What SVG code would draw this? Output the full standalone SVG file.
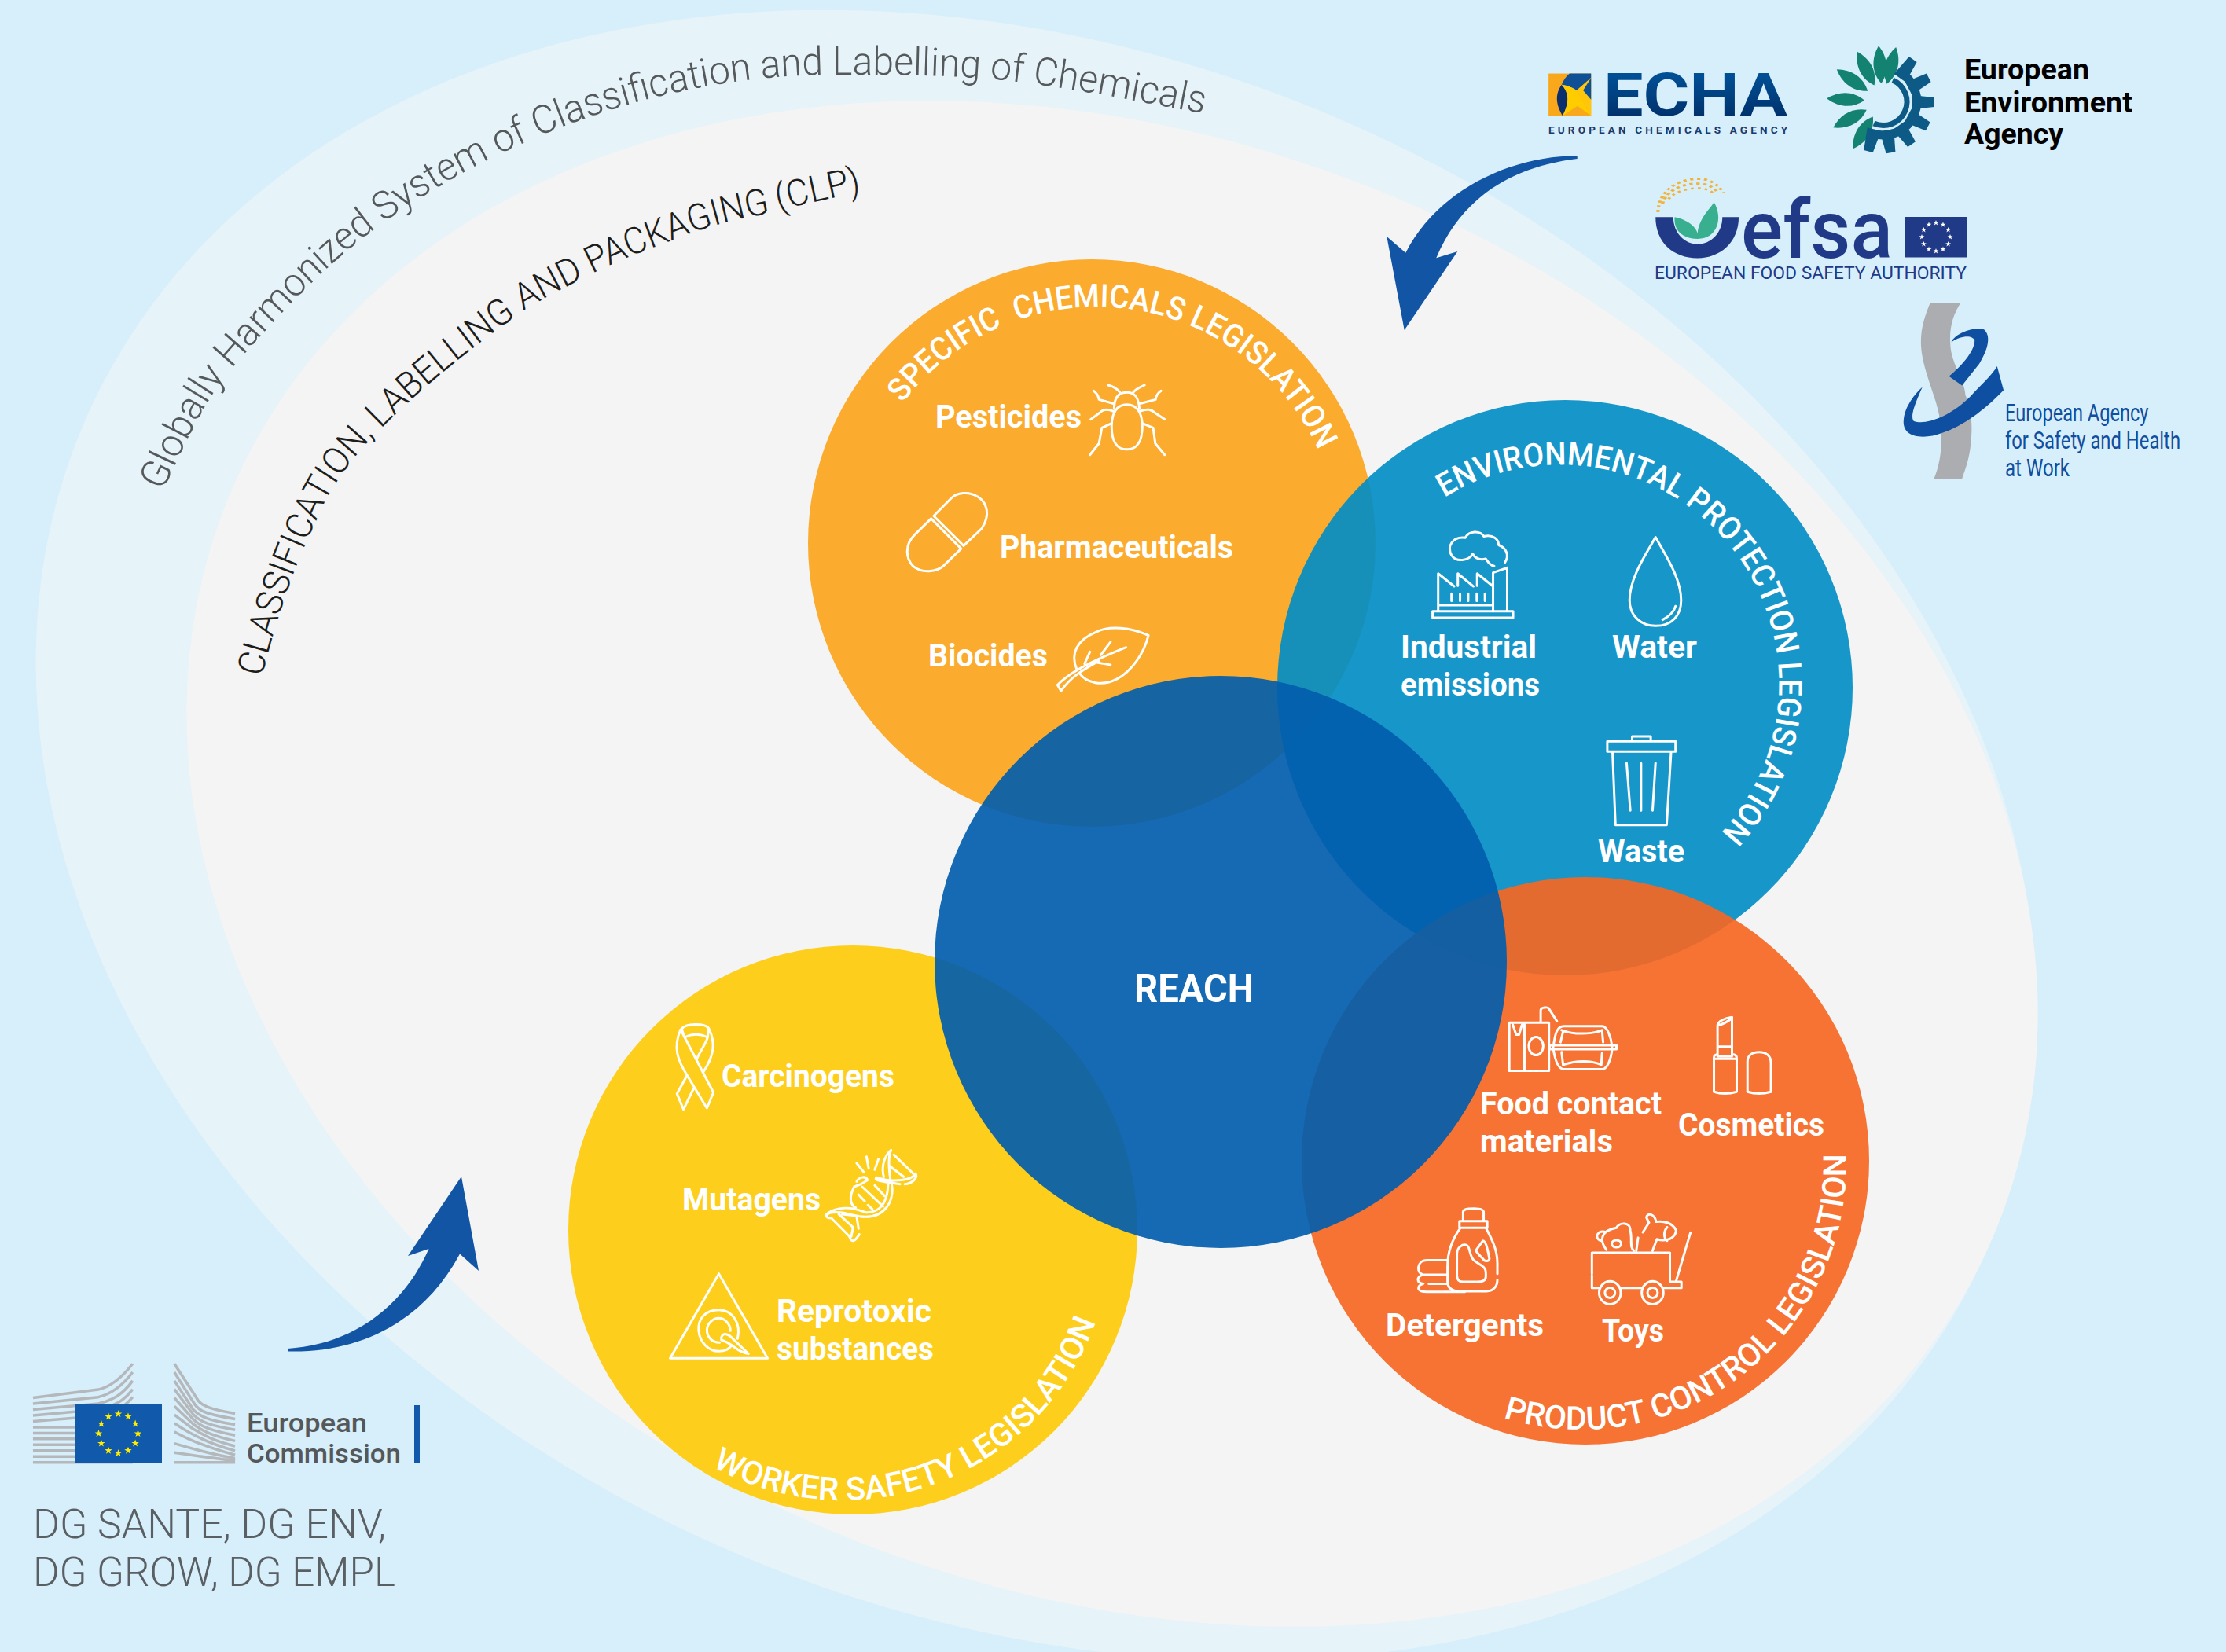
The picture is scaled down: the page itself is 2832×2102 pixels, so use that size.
<svg xmlns="http://www.w3.org/2000/svg" width="2832" height="2102" viewBox="0 0 2832 2102">
<style>
text{font-family:"Roboto","Liberation Sans",sans-serif}
.lb{font-size:41px;font-weight:700;fill:#fff}
.arc{font-size:41px;font-weight:500;fill:#fff}
.ic{fill:none;stroke:#fff;stroke-width:3;stroke-linecap:round;stroke-linejoin:round}
.ic *{vector-effect:non-scaling-stroke}
.bl{fill:none;stroke:#b5b8bb;stroke-width:3.5}
.bl *{vector-effect:non-scaling-stroke}
.arrow{fill:#1355a5}
</style>
<defs>
<polygon id="st" points="0,-5 1.2,-1.6 4.8,-1.5 1.9,.6 3,4 0,2 -3,4 -1.9,.6 -4.8,-1.5 -1.2,-1.6"/>
<g id="ring">
<use href="#st" x="0" y="-25"/><use href="#st" x="12.5" y="-21.65"/><use href="#st" x="21.65" y="-12.5"/><use href="#st" x="25" y="0"/><use href="#st" x="21.65" y="12.5"/><use href="#st" x="12.5" y="21.65"/><use href="#st" x="0" y="25"/><use href="#st" x="-12.5" y="21.65"/><use href="#st" x="-21.65" y="12.5"/><use href="#st" x="-25" y="0"/><use href="#st" x="-21.65" y="-12.5"/><use href="#st" x="-12.5" y="-21.65"/>
</g>
<path id="leaf" d="M2395,106 C2384,92 2384,74 2395,58 C2406,74 2406,92 2395,106 Z"/>
<path id="tooth" d="M2387,92 L2390,63 H2402 L2405,92 Z"/>
<path id="pSpec" d="M1148.1,513.3 A309.5,309.5 0 0 1 1694,620"/>
<path id="pEnv" d="M1837.6,633.1 A279,279 0 0 1 2145,1098.5"/>
<path id="pProd" d="M1912.3,1803.9 A337,337 0 0 0 2337.5,1395"/>
<path id="pWork" d="M906.2,1866 A342,342 0 0 0 1408.8,1626.4"/>
<path id="pGhs" d="M207,625 C235,565 262,505 298,465 C355,400 420,330 495,278 C555,236 620,201 691,171 C810,122 935,95 1062,95 C1150,95 1240,95 1324,108 C1395,118 1465,132 1533,145 L1570,152"/>
<path id="pClp" d="M333,862 C352,785 376,715 405,657 C425,610 455,575 488,542 C545,485 610,435 671,392 C700,375 730,360 758,346 C800,325 840,312 878,297 C915,284 945,278 975,272 C1010,262 1060,252 1092,245 L1130,238"/>
<linearGradient id="echaG" x1="0" y1="0" x2="0" y2="1"><stop offset="0" stop-color="#005aa3"/><stop offset="1" stop-color="#00285f"/></linearGradient>
</defs>
<rect width="2832" height="2102" fill="#d7eefb"/>
<g id="ghs-field"><ellipse cx="1318" cy="1063" rx="1320" ry="990" transform="rotate(23.7 1318 1063)" fill="#e6f3f9"/>
<text font-size="50" font-weight="300" fill="#55595c"><textPath href="#pGhs" textLength="1535" lengthAdjust="spacingAndGlyphs">Globally Harmonized System of Classification and Labelling of Chemicals</textPath></text></g>
<g id="clp-field"><ellipse cx="1415" cy="1099" rx="1217" ry="921" transform="rotate(22.7 1415 1099)" fill="#f4f4f4"/>
<text font-size="47" font-weight="300" fill="#1d1d1b"><textPath href="#pClp" textLength="1050" lengthAdjust="spacingAndGlyphs">CLASSIFICATION, LABELLING AND PACKAGING (CLP)</textPath></text></g>

<g id="circle-specific">
<circle cx="1389" cy="691" r="361" fill="#fbab2e"/>
</g>
<g id="circle-environment">
<circle cx="1991" cy="875" r="366" fill="#038dc6" fill-opacity=".92"/>
</g>
<g id="circle-product">
<circle cx="2017" cy="1477" r="361" fill="#f56723" fill-opacity=".92"/>
</g>
<g id="circle-worker">
<circle cx="1085" cy="1565" r="362" fill="#fdcf1c"/>
</g>
<g id="circle-reach">
<circle cx="1553" cy="1224" r="364" fill="#025dac" fill-opacity=".92"/>
<text x="1443" y="1275" font-size="50" font-weight="700" fill="#fff" textLength="152" lengthAdjust="spacingAndGlyphs">REACH</text>
</g>

<g id="specific-labels">
<text class="arc"><textPath href="#pSpec" textLength="641" lengthAdjust="spacingAndGlyphs" style="white-space:pre">SPECIFIC  CHEMICALS LEGISLATION</textPath></text>
<text class="lb" x="1190" y="544" textLength="186" lengthAdjust="spacingAndGlyphs">Pesticides</text>
<text class="lb" x="1272" y="710" textLength="297" lengthAdjust="spacingAndGlyphs">Pharmaceuticals</text>
<text class="lb" x="1181" y="848" textLength="152" lengthAdjust="spacingAndGlyphs">Biocides</text>
<g class="ic" transform="translate(1040,330) scale(.4592,.3827)">
<path d="M822,497 C822,460 835,442 857,442 C880,442 890,460 892,497"/>
<path d="M857,483 C830,483 815,510 815,555 C815,605 830,632 857,632 C885,632 900,605 900,555 C900,510 885,483 857,483 Z"/>
<path d="M838,442 C830,430 820,422 805,418 M875,442 C883,430 893,425 906,418 M822,480 L780,466 C778,452 775,445 765,437 M892,480 L937,466 C938,452 942,445 952,437 M820,505 C800,495 790,500 782,510 L757,532 M893,505 C915,495 925,500 935,510 L962,532 M815,545 L788,560 L780,612 L755,650 M900,545 L930,560 L936,612 L962,650"/>
<path d="M322,853 L370,795 C385,775 420,770 445,790 C470,810 480,850 455,895 L405,952 Z M315,862 L398,962 L350,1018 C330,1040 290,1045 265,1020 C245,995 240,950 270,915 Z"/>
<path d="M917,1250 C870,1225 810,1215 770,1240 C720,1265 700,1310 718,1362 M725,1375 C745,1410 790,1420 830,1395 C870,1370 905,1310 917,1250 M665,1415 C690,1385 730,1350 855,1290 M665,1415 L675,1435 C700,1390 735,1365 780,1335 M740,1345 L755,1305 M785,1315 L812,1272 M770,1340 L812,1348"/>
</g>
</g>

<g id="environment-labels">
<text class="arc"><textPath href="#pEnv" textLength="801" lengthAdjust="spacingAndGlyphs">ENVIRONMENTAL PROTECTION LEGISLATION</textPath></text>
<text class="lb" x="1782" y="837" textLength="173" lengthAdjust="spacingAndGlyphs">Industrial</text>
<text class="lb" x="1782" y="885" textLength="177" lengthAdjust="spacingAndGlyphs">emissions</text>
<text class="lb" x="2051" y="837" textLength="108" lengthAdjust="spacingAndGlyphs">Water</text>
<text class="lb" x="2033" y="1097" textLength="110" lengthAdjust="spacingAndGlyphs">Waste</text>
<g class="ic" transform="translate(1640,540) scale(.4719,.3699)">
<path d="M553,487 C540,485 535,470 530,462 C515,468 500,460 495,445 C485,470 450,475 438,450 C425,420 440,385 475,390 C485,365 515,365 525,385 C550,378 565,395 565,415 C585,425 595,450 582,475"/>
<path d="M387,643 H604 V665 H387 Z M402,643 V513 L445,557 M455,555 V513 L497,557 M507,555 V513 L550,557 M550,643 V510 L588,493 V643 M405,622 H550 M438,582 V607 M461,582 V607 M483,582 V607 M506,582 V607 M528,582 V607"/>
<path d="M988,388 C960,450 918,530 918,605 C918,660 950,693 988,693 C1030,693 1057,660 1057,605 C1057,530 1015,450 988,388 Z M1007,672 C1025,660 1038,645 1042,625"/>
<path d="M858,1090 H1042 V1125 H858 Z M925,1090 V1073 H975 V1090 M872,1125 L880,1378 H1018 L1030,1125 M910,1165 L920,1328 M949,1165 V1328 M988,1165 L980,1328"/>
</g>
</g>

<g id="product-labels">
<text class="arc"><textPath href="#pProd" textLength="644" lengthAdjust="spacingAndGlyphs">PRODUCT CONTROL LEGISLATION</textPath></text>
<text class="lb" x="1883" y="1418" textLength="231" lengthAdjust="spacingAndGlyphs">Food contact</text>
<text class="lb" x="1883" y="1466" textLength="169" lengthAdjust="spacingAndGlyphs">materials</text>
<text class="lb" x="2135" y="1445" textLength="186" lengthAdjust="spacingAndGlyphs">Cosmetics</text>
<text class="lb" x="1763" y="1700" textLength="201" lengthAdjust="spacingAndGlyphs">Detergents</text>
<text class="lb" x="2038" y="1707" textLength="79" lengthAdjust="spacingAndGlyphs">Toys</text>
<g class="ic" transform="translate(1680,1240) scale(.4592,.3827)">
<path d="M523,160 H633 V320 H523 Z M565,165 V320 M533,168 L542,200 H550 L558,168 M610,160 V120 C610,108 630,108 632,112 L655,155"/>
<ellipse cx="597" cy="238" rx="20" ry="30"/>
<path d="M645,240 C650,195 655,172 675,172 H780 C795,172 805,210 808,240 M635,235 H820 V248 H635 Z M645,248 C650,285 660,315 675,315 H780 C795,315 805,280 808,248 M672,190 L665,225 M668,185 C700,200 750,200 780,185 L783,225 M668,258 L672,300 C710,285 750,285 778,300 L780,262"/>
<path d="M1100,240 V170 C1100,155 1120,145 1140,142 V240 M1100,170 C1115,165 1130,155 1140,145 M1100,240 H1140 V272 H1100 Z M1090,275 C1090,270 1095,265 1100,265 M1140,265 C1150,265 1153,270 1153,278 V390 C1130,398 1110,398 1090,390 V275 M1090,280 H1153 M1183,390 V290 C1183,265 1200,258 1215,258 C1235,258 1248,270 1248,295 V390 C1225,398 1205,398 1183,390 Z"/>
<path d="M395,820 V790 C395,780 405,778 425,778 C445,778 452,782 452,790 V820 M385,820 H462 V842 H385 Z M388,842 C365,880 352,920 352,970 V1020 C352,1045 365,1053 385,1053 H460 C480,1053 490,1035 490,1015 M490,995 V960 C490,915 475,880 458,842 M378,1000 V930 C378,905 395,895 405,900 C415,905 412,935 425,950 C440,965 458,970 458,990 V1005 C458,1020 445,1022 435,1022 H395 C385,1022 378,1015 378,1000 Z M430,918 L450,885 C460,885 465,930 468,945 C465,955 455,955 450,945 C440,935 435,925 430,918 Z M352,950 H295 C265,950 265,995 285,998 C265,1005 265,1025 285,1028 C265,1035 265,1055 295,1055 H400 M285,998 H352 M300,1028 H352"/>
<path d="M752,995 V925 H968 V1020 M752,1000 V1042 H775 M830,1042 H890 M950,1042 H1000 V1022 H970 M985,1020 L1025,858 M792,915 C770,880 780,850 820,842 C830,820 860,825 858,850 C865,880 855,905 868,918 M787,855 C765,850 758,880 778,885 M880,875 L875,918 M920,918 L932,880 C960,890 985,875 985,850 C975,825 950,818 930,822 C925,795 905,790 903,808 L910,825 L893,857 M960,840 C950,855 950,875 960,885"/>
<ellipse cx="802" cy="1058" rx="30" ry="38"/><ellipse cx="802" cy="1058" rx="14" ry="17"/><ellipse cx="920" cy="1058" rx="30" ry="38"/><ellipse cx="920" cy="1058" rx="14" ry="17"/><ellipse cx="820" cy="895" rx="13" ry="12"/>
</g>
</g>

<g id="worker-labels">
<text class="arc"><textPath href="#pWork" textLength="593" lengthAdjust="spacingAndGlyphs">WORKER SAFETY LEGISLATION</textPath></text>
<text class="lb" x="918" y="1383" textLength="220" lengthAdjust="spacingAndGlyphs">Carcinogens</text>
<text class="lb" x="868" y="1540" textLength="176" lengthAdjust="spacingAndGlyphs">Mutagens</text>
<text class="lb" x="988" y="1682" textLength="197" lengthAdjust="spacingAndGlyphs">Reprotoxic</text>
<text class="lb" x="988" y="1730" textLength="200" lengthAdjust="spacingAndGlyphs">substances</text>
<g class="ic" transform="translate(780,1260) scale(.4592,.3333)">
<path d="M190,148 C200,125 255,125 265,145 L262,180 C240,165 220,165 198,180 Z M187,150 C165,220 180,270 205,325 L177,395 L195,455 L222,378 M187,150 L278,390 L260,450 L205,325 M265,145 C285,200 280,250 250,312 M262,180 C255,210 240,235 232,262"/>
<path d="M730,715 C775,735 830,725 838,700 C845,715 830,738 808,740 M730,715 C720,725 745,730 795,740 M770,610 C745,640 745,690 750,712 M770,610 C760,640 765,690 768,720 M778,628 L832,700 M765,670 L805,712 M725,745 L752,785 M690,750 L748,825 M680,780 L697,805 M706,820 L718,835 M675,730 C680,715 700,705 705,725 C695,735 680,745 668,750 C650,800 660,820 672,830 M772,740 C780,810 750,865 700,865 C660,865 640,840 600,850 C585,860 590,870 605,870 M590,855 C620,825 660,825 700,848 C735,850 760,820 762,740 M605,870 L655,940 C660,965 670,960 682,932 M625,855 L665,905 M675,865 L680,910 M635,855 L680,862 M665,905 L660,940 M675,660 L695,695 M702,635 L708,680 M735,645 L725,685"/>
<path d="M293,1082 L158,1405 H428 Z M345,1330 C355,1270 330,1220 293,1220 C255,1220 235,1255 237,1298 C240,1345 265,1378 293,1378 C310,1378 322,1368 327,1358 M325,1300 C325,1275 310,1252 293,1252 C275,1252 260,1275 260,1298 C260,1325 275,1345 295,1345 M300,1325 C305,1305 320,1310 335,1335 L375,1388 C340,1380 335,1350 300,1335 Z"/>
</g>
</g>

<g id="connectors">
<path id="arrow-top" class="arrow" d="M2006.7,198.3 C1925,198 1830,240 1788.3,321.7 L1764.3,301 L1786.7,420 L1854.3,320 L1827.3,328.3 C1860,250 1925,212 2006.7,202 Z"/>
<path id="arrow-bottom" class="arrow" d="M366,1716 C440,1712 510,1670 545.5,1589 L519,1598 L587,1497 L609,1617 L585,1595.5 C540,1680 460,1722 366,1719.5 Z"/>
</g>

<g id="logo-ec">
<g class="bl" transform="translate(0,1450) scale(.4464,.4158)">
<path d="M94,790 L280,765 C320,755 350,725 378,686 M94,808 L280,788 C320,778 350,752 378,712 M94,826 L280,808 C320,798 350,780 378,738 M94,844 L280,826 C320,816 350,805 378,764 M94,862 L280,846 C320,836 350,825 378,788 M94,880 H300 M94,898 H300 M94,916 H300 M94,934 H300 M94,952 H300 M94,970 H300 M94,988 H378"/>
<path d="M497,686 L560,790 C570,815 600,825 670,838 M497,712 L555,810 C570,835 600,842 670,855 M497,738 L550,825 C570,850 600,860 670,872 M497,764 L550,840 C570,865 600,875 670,888 M497,790 L550,855 C570,878 600,890 670,905 M497,816 L550,870 C575,890 600,905 670,922 M497,842 L550,885 C580,902 600,920 670,938 M497,868 C540,900 600,932 670,952 M497,894 C540,920 600,945 670,965 M497,930 C560,950 610,965 670,975 M497,958 C560,968 610,975 670,983 M497,988 H670"/>
</g>
<rect x="95" y="1787" width="111" height="74" fill="#1059ab"/>
<use href="#ring" fill="#ffed00" transform="translate(150.5,1824)"/>
<text x="314" y="1822" font-size="34" font-weight="500" fill="#55585a" textLength="153" lengthAdjust="spacingAndGlyphs">European</text>
<text x="314" y="1861" font-size="34" font-weight="500" fill="#55585a" textLength="196" lengthAdjust="spacingAndGlyphs">Commission</text>
<rect x="527" y="1788" width="7" height="74" fill="#1059ab"/>
<text x="42" y="1957" font-size="51" font-weight="300" fill="#5a5f63" textLength="449" lengthAdjust="spacingAndGlyphs">DG SANTE, DG ENV,</text>
<text x="42" y="2018" font-size="51" font-weight="300" fill="#5a5f63" textLength="461" lengthAdjust="spacingAndGlyphs">DG GROW, DG EMPL</text>
</g>

<g id="logo-echa">
<g transform="translate(1900,20) scale(.5944,.3954)">
<rect x="118" y="186" width="91" height="136" fill="#f9a81b"/>
<path d="M163,186 H209 V200 L178,240 C165,228 155,224 146,222 C150,208 155,196 163,186 Z" fill="#0f4f96"/>
<path d="M146,222 C160,245 165,275 148,322 C135,290 130,255 146,222 Z" fill="#0b2f6e"/>
<path d="M209,200 L178,240 L209,322 Z" fill="#ffc60b"/>
<path d="M178,240 C165,228 155,224 146,222 C160,245 165,275 148,322 L180,290 L209,322 Z" fill="#ffcc00"/>
<path d="M192,240 L209,200 V270 Z" fill="#0f4f96"/>
</g>
<text x="2040" y="147" font-size="76" font-weight="700" fill="url(#echaG)" textLength="234" lengthAdjust="spacingAndGlyphs">ECHA</text>
<text x="1970" y="170" font-size="13.5" font-weight="700" fill="#1a3a6e" textLength="304">EUROPEAN CHEMICALS AGENCY</text>
</g>

<g id="logo-eea">
<g fill="#138270">
<use href="#leaf" transform="rotate(-4 2395 129)"/>
<use href="#leaf" transform="rotate(14 2395 129)"/>
<use href="#leaf" transform="rotate(-27 2395 129)"/>
<use href="#leaf" transform="rotate(-55 2395 129)"/>
<use href="#leaf" transform="rotate(-87 2395 129)"/>
<use href="#leaf" transform="rotate(-118 2395 129)"/>
<use href="#leaf" transform="rotate(-148 2395 129)"/>
</g>
<g fill="#0c5a85">
<use href="#tooth" transform="rotate(35 2395 129)"/>
<use href="#tooth" transform="rotate(62 2395 129)"/>
<use href="#tooth" transform="rotate(90 2395 129)"/>
<use href="#tooth" transform="rotate(118 2395 129)"/>
<use href="#tooth" transform="rotate(145 2395 129)"/>
<use href="#tooth" transform="rotate(170 2395 129)"/>
<use href="#tooth" transform="rotate(195 2395 129)"/>
</g>
<path d="M2416,91 A43,43 0 0 1 2383,170" fill="none" stroke="#0c5a85" stroke-width="11"/>
<path d="M2408,102 A30,30 0 0 1 2384,157" fill="none" stroke="#0c5a85" stroke-width="7"/>
<text x="2499" y="101" font-size="36" font-weight="700" fill="#000" textLength="159" lengthAdjust="spacingAndGlyphs">European</text>
<text x="2499" y="142.5" font-size="36" font-weight="700" fill="#000" textLength="214" lengthAdjust="spacingAndGlyphs">Environment</text>
<text x="2499" y="183" font-size="36" font-weight="700" fill="#000" textLength="126" lengthAdjust="spacingAndGlyphs">Agency</text>
</g>

<g id="logo-efsa">
<g transform="translate(1900,20) scale(.5944,.3954)">
<path d="M347,648 H385 C385,700 410,735 437,735 C465,735 490,700 490,648 H525 C525,730 485,780 437,780 C385,780 347,730 347,648 Z" fill="#213a87"/>
<path d="M388,648 C425,660 435,690 437,700 C440,650 465,620 472,600 C492,650 480,718 437,718 C405,718 385,690 388,648 Z" fill="#38b08f"/>
<path d="M352,632 C355,560 395,525 440,525 C460,525 480,540 492,570" fill="none" stroke="#f2b33a" stroke-width="7" stroke-dasharray="7 8"/>
<path d="M362,605 C370,565 400,540 440,540 C455,540 470,550 480,568" fill="none" stroke="#f2b33a" stroke-width="7" stroke-dasharray="7 8"/>
<path d="M375,590 C385,570 410,555 440,555 C450,555 462,560 470,570" fill="none" stroke="#f2b33a" stroke-width="6" stroke-dasharray="6 9"/>
</g>
<text x="2215" y="327.5" font-size="104" font-weight="500" fill="#213a87" textLength="193" lengthAdjust="spacingAndGlyphs">efsa</text>
<rect x="2424" y="276" width="78" height="51.5" fill="#213a87"/>
<use href="#ring" fill="#fff" transform="translate(2463,301.5) scale(.72)"/>
<text x="2105" y="355" font-size="22.5" font-weight="400" fill="#213a87" textLength="397" lengthAdjust="spacingAndGlyphs">EUROPEAN FOOD SAFETY AUTHORITY</text>
</g>

<g id="logo-osha">
<g transform="translate(1900,20) scale(.5944,.3954)">
<path d="M935,923 H1000 C985,960 975,1000 978,1060 C980,1120 1010,1180 1010,1220 C1025,1270 1025,1330 1022,1370 C1020,1420 1010,1460 1003,1490 H943 C960,1430 965,1340 950,1260 C940,1200 915,1120 915,1050 C915,1000 925,960 935,923 Z" fill="#abadb0"/>
<path d="M980,1050 C990,1020 1030,1000 1050,1010 C1065,1030 1060,1070 1040,1120 L1003,1190 L975,1160 C1000,1130 1030,1080 1030,1045 C1025,1025 1000,1030 980,1050 Z" fill="#0e4fa1"/>
<path d="M1078,1128 L1092,1205 C1050,1270 1000,1330 940,1352 C900,1362 875,1345 878,1300 C880,1260 900,1220 918,1195 C905,1240 890,1290 900,1305 C930,1320 990,1280 1030,1210 C1050,1180 1070,1150 1078,1128 Z" fill="#0e4fa1"/>
</g>
<text x="2551" y="536" font-size="32" fill="#0f4fa0" textLength="182.5" lengthAdjust="spacingAndGlyphs">European Agency</text>
<text x="2551" y="571" font-size="32" fill="#0f4fa0" textLength="223" lengthAdjust="spacingAndGlyphs">for Safety and Health</text>
<text x="2551" y="606" font-size="32" fill="#0f4fa0" textLength="82" lengthAdjust="spacingAndGlyphs">at Work</text>
</g>
</svg>
